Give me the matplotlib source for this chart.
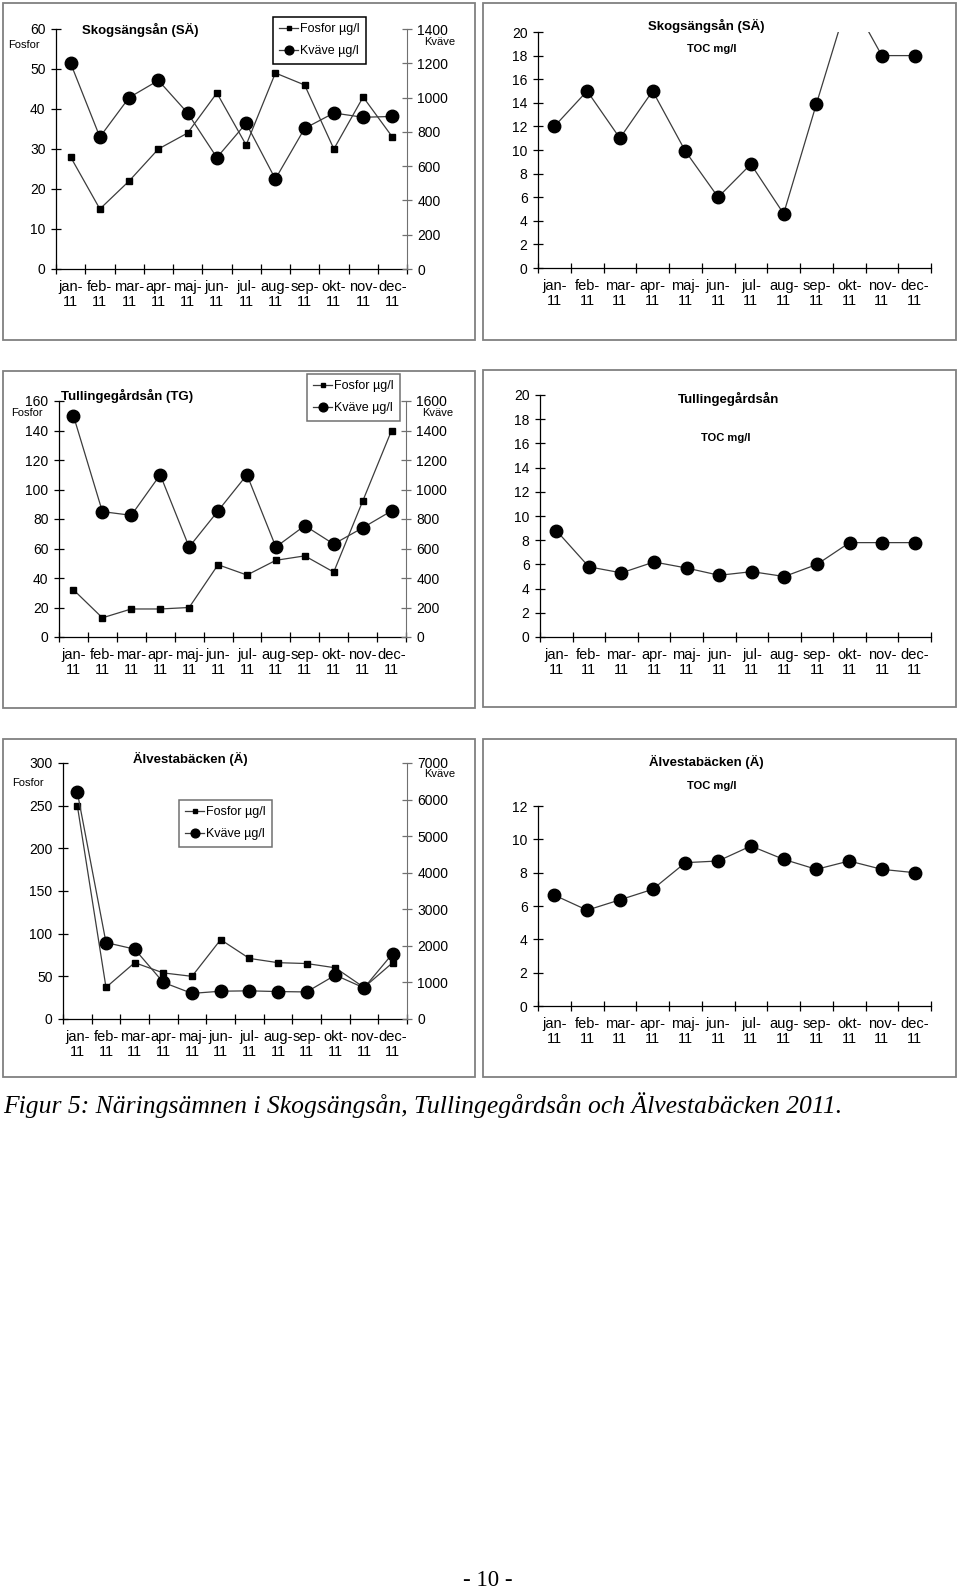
import matplotlib
matplotlib.use("Agg")
import matplotlib.pyplot as plt
from matplotlib.patches import Rectangle

plt.rcParams['font.family'] = ['Liberation Sans', 'DejaVu Sans']

W, H = 960, 1590

months = ["jan-", "feb-", "mar-", "apr-", "maj-", "jun-",
          "jul-", "aug-", "sep-", "okt-", "nov-", "dec-"]
year = "11"

# Skogsängsån (SÄ)
sa_fosfor = [28, 15, 22, 30, 34, 44, 31, 49, 46, 30, 43, 33]
sa_kvave = [1200, 770, 1000, 1100, 910, 650, 850, 525, 820, 910, 885, 890]
sa_toc = [12, 15, 11, 15, 9.9, 6, 8.8, 4.6, 13.9, 23, 18, 18]

# Tullingegårdsån (TG)
tg_fosfor = [32, 13, 19, 19, 20, 49, 42, 52, 55, 44, 92, 140]
tg_kvave = [1500, 850, 825, 1100, 610, 855, 1100, 610, 755, 630, 740, 855]
tg_toc = [8.8, 5.8, 5.3, 6.2, 5.7, 5.1, 5.4, 5.0, 6.0, 7.8, 7.8, 7.8]

# Älvestabäcken (Ä)
av_fosfor = [250, 37, 66, 54, 50, 93, 71, 66, 65, 60, 37, 66]
av_kvave = [6200, 2090, 1910, 1000, 700, 760, 770, 750, 740, 1200, 850, 1790]
av_toc = [6.65, 5.75, 6.37, 7.0, 8.6, 8.7, 9.6, 8.8, 8.2, 8.7, 8.2, 8.0]

LINE = '#3c3c3c'
TICKFS = 10
XFS = 10.5


def fx(x):
    return x / W


def fy(y):
    return 1 - y / H


def add_axes(x0, y0, x1, y1):
    return fig.add_axes([fx(x0), fy(y1), (x1 - x0) / W, (y1 - y0) / H])


def frame(x0, y0, x1, y1):
    fig.patches.append(Rectangle((fx(x0), fy(y1)), (x1 - x0) / W, (y1 - y0) / H,
                                 transform=fig.transFigure, fill=False,
                                 edgecolor='#808080', linewidth=1.3))


def style_x(ax):
    n = len(months)
    ax.set_xlim(-0.5, n - 0.5)
    ax.set_xticks([i - 0.5 for i in range(n + 1)])
    ax.set_xticklabels([])
    ax.set_xticks(range(n), minor=True)
    ax.set_xticklabels([m + "\n" + year for m in months], minor=True,
                       fontsize=XFS, linespacing=1.05)
    ax.tick_params(axis='x', which='major', direction='inout', length=7, width=0.9)
    ax.tick_params(axis='x', which='minor', length=0, pad=8)
    for s in ['top', 'right']:
        ax.spines[s].set_visible(False)
    ax.spines['bottom'].set_linewidth(0.9)
    ax.spines['left'].set_linewidth(0.9)
    ax.tick_params(axis='y', direction='inout', length=7, width=0.9,
                   labelsize=TICKFS, pad=4)
    ax.patch.set_visible(False)


def dual_panel(box, axbox, fosfor, kvave, ylim1, step1, ylim2, step2,
               title, tpos, fpos, kpos, legpos, legcolor):
    frame(*box)
    ax = add_axes(*axbox)
    x = range(len(months))
    h1, = ax.plot(x, fosfor, color=LINE, lw=0.9, marker='s', ms=3.8,
                  mfc='black', mec='black', label='Fosfor µg/l', clip_on=False)
    ax.set_ylim(0, ylim1)
    ax.set_yticks(range(0, ylim1 + 1, step1))
    style_x(ax)
    ax2 = ax.twinx()
    h2, = ax2.plot(x, kvave, color=LINE, lw=0.9, marker='o', ms=9,
                   mfc='black', mec='black', label='Kväve µg/l', clip_on=False)
    ax2.set_ylim(0, ylim2)
    ax2.set_yticks(range(0, ylim2 + 1, step2))
    for s in ['top', 'left', 'bottom']:
        ax2.spines[s].set_visible(False)
    ax2.spines['right'].set_color('#707070')
    ax2.tick_params(axis='y', direction='inout', length=7, width=0.9,
                    color='#707070', labelsize=TICKFS, pad=4)
    fig.text(fx(tpos[0]), fy(tpos[1]), title, fontsize=9.5, fontweight='bold',
             ha='center', va='center')
    fig.text(fx(fpos[0]), fy(fpos[1]), "Fosfor", fontsize=8, ha='center', va='center')
    fig.text(fx(kpos[0]), fy(kpos[1]), "Kväve", fontsize=8, ha='center', va='center')
    leg = fig.legend([h1, h2], ['Fosfor µg/l', 'Kväve µg/l'], loc='upper left',
                     bbox_to_anchor=(fx(legpos[0]), fy(legpos[1])),
                     bbox_transform=fig.transFigure, borderaxespad=0,
                     fancybox=False, edgecolor=legcolor, framealpha=1,
                     fontsize=9, handlelength=1.5, handletextpad=0.2,
                     labelspacing=0.8, borderpad=0.5, markerscale=0.7)
    leg.get_frame().set_linewidth(1.1)
    return ax


def toc_panel(box, axbox, toc, ylim, step, title, tpos, spos):
    frame(*box)
    ax = add_axes(*axbox)
    ax.plot(range(len(months)), toc, color=LINE, lw=0.9, marker='o', ms=9,
            mfc='black', mec='black')
    ax.set_ylim(0, ylim)
    ax.set_yticks(range(0, ylim + 1, step))
    style_x(ax)
    fig.text(fx(tpos[0]), fy(tpos[1]), title, fontsize=9.5, fontweight='bold',
             ha='center', va='center')
    fig.text(fx(spos[0]), fy(spos[1]), "TOC mg/l", fontsize=8, fontweight='bold',
             ha='center', va='center')
    return ax


fig = plt.figure(figsize=(W / 100, H / 100), dpi=100)

dual_panel((3, 3, 475, 340), (56, 29, 407, 269), sa_fosfor, sa_kvave,
           60, 10, 1400, 200, "Skogsängsån (SÄ)", (140, 30), (24, 45), (440, 42),
           (273, 17), 'black')
toc_panel((483, 3, 956, 340), (538, 32, 931, 268), sa_toc, 20, 2,
          "Skogsängsån (SÄ)", (706, 26), (712, 49))

dual_panel((3, 371, 475, 708), (59, 401, 406, 637), tg_fosfor, tg_kvave,
           160, 20, 1600, 200, "Tullingegårdsån (TG)", (127, 396), (27, 413),
           (438, 413), (307, 374), '#707070')
toc_panel((483, 370, 956, 707), (540, 395, 931, 637), tg_toc, 20, 2,
          "Tullingegårdsån", (729, 399), (726, 438))

dual_panel((3, 739, 475, 1077), (63, 763, 407, 1019), av_fosfor, av_kvave,
           300, 50, 7000, 1000, "Älvestabäcken (Ä)", (190, 759), (28, 783),
           (440, 774), (179, 800), '#707070')
toc_panel((483, 739, 956, 1077), (538, 806, 931, 1006), av_toc, 12, 2,
          "Älvestabäcken (Ä)", (706, 762), (712, 786))

# bildtext, skalas till samma bredd som i originalet
cap = fig.text(fx(3), fy(1105), "Figur 5: Näringsämnen i Skogsängsån, Tullingegårdsån och Älvestabäcken 2011.",
               fontsize=17, family=['Liberation Serif', 'DejaVu Serif'], style='italic',
               ha='left', va='center')
r = fig.canvas.get_renderer()
wpx = cap.get_window_extent(r).width
cap.set_fontsize(17 * 842 / wpx)

fig.text(fx(488), fy(1580), "- 10 -", fontsize=16.5,
         family=['Liberation Serif', 'DejaVu Serif'], ha='center', va='center')

fig.savefig("out.png", dpi=100)
